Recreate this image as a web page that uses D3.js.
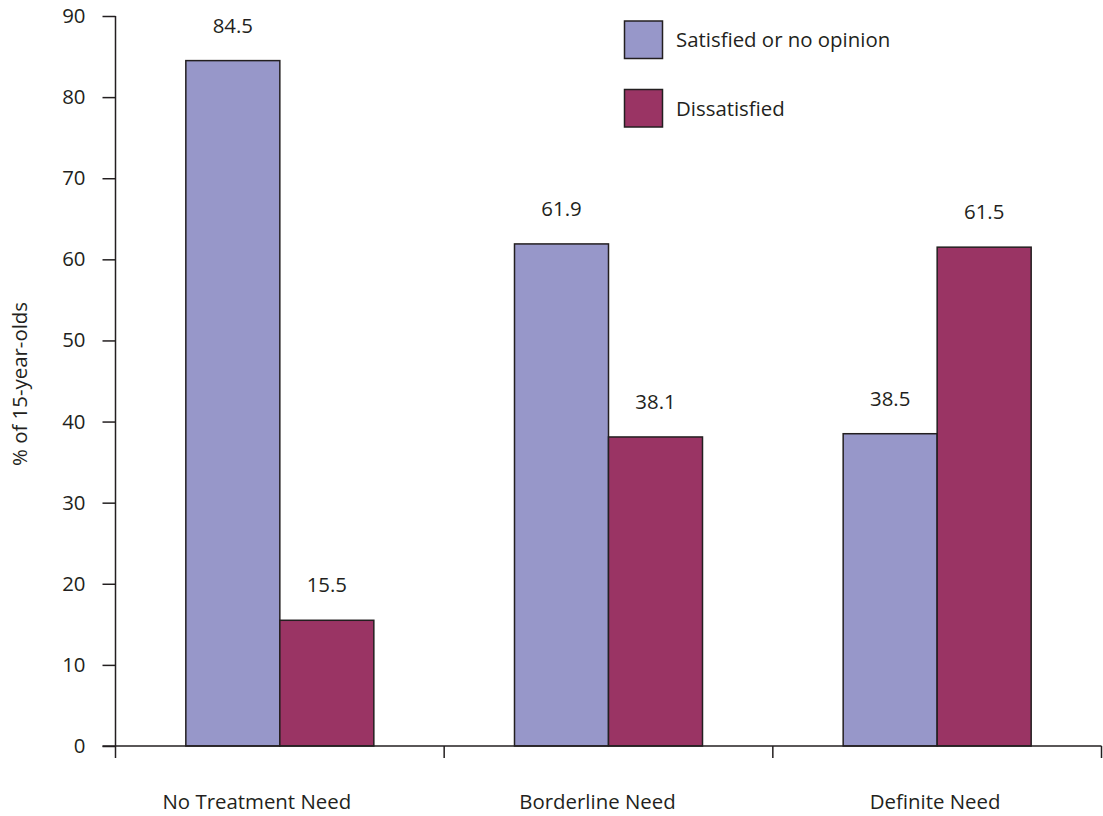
<!DOCTYPE html>
<html><head><meta charset="utf-8">
<script src="https://cdn.jsdelivr.net/npm/d3@7"></script>
<style>body{margin:0;background:#fff}svg{display:block}text{font-family:"Open Sans",sans-serif;fill:#231f20}</style>
</head><body><svg id="c" width="1103" height="816"></svg>
<script>
const categories = ["No Treatment Need", "Borderline Need", "Definite Need"];
const seriesNames = ["Satisfied or no opinion", "Dissatisfied"];
const satisfied = [84.5, 61.9, 38.5];
const dissatisfied = [15.5, 38.1, 61.5];
const yTicks = [0, 10, 20, 30, 40, 50, 60, 70, 80, 90];
const colors = ["#9797c9", "#9a3464"];
const labelShift = [-23, -11, -2];

const svg = d3.select("#c");
const m = {l: 115.5, r: 1101.5, t: 16, b: 746};
const x = d3.scaleBand().domain(categories).range([m.l, m.r]).padding(0);
const x1 = d3.scaleBand().domain(seriesNames).range([0, 188]).padding(0);
const y = d3.scaleLinear().domain([0, 90]).range([m.b, m.t]);
const stroke = "#231f20";
const fs = 20.4;

const data = categories.map((c, i) => ({cat: c, vals: [satisfied[i], dissatisfied[i]]}));

// bars
const g = svg.append("g");
data.forEach((d) => {
  const off = x(d.cat) + (x.bandwidth() - 188) / 2;
  d.vals.forEach((v, j) => {
    g.append("rect")
      .attr("x", off + x1(seriesNames[j]))
      .attr("y", y(v))
      .attr("width", x1.bandwidth())
      .attr("height", y(0) - y(v))
      .attr("fill", colors[j])
      .attr("stroke", stroke).attr("stroke-width", 1.5);
    g.append("text")
      .attr("x", off + x1(seriesNames[j]) + x1.bandwidth() / 2)
      .attr("y", y(v) - 28)
      .attr("text-anchor", "middle")
      .attr("font-size", fs)
      .text(v.toFixed(1));
  });
});

// y axis
const ya = svg.append("g").attr("transform", `translate(${m.l},0)`)
  .call(d3.axisLeft(y).tickValues(yTicks).tickSize(13).tickPadding(17).tickFormat(d3.format("d")));
ya.select(".domain").attr("stroke", stroke).attr("stroke-width", 1.5).attr("d", `M0,${m.t}V${m.b}`);
ya.selectAll(".tick line").attr("stroke", stroke).attr("stroke-width", 1.5);
ya.selectAll(".tick text").attr("font-size", fs).attr("font-family", '"Open Sans",sans-serif').attr("fill", stroke);

// x axis
const xa = svg.append("g").attr("transform", `translate(0,${m.b})`);
xa.append("line").attr("x1", m.l - 13).attr("x2", m.r).attr("y1", 0).attr("y2", 0)
  .attr("stroke", stroke).attr("stroke-width", 1.5);
const edges = categories.map(c => x(c)).concat([m.r]);
xa.selectAll("line.t").data(edges).join("line").attr("class", "t")
  .attr("x1", d => d).attr("x2", d => d).attr("y1", 0).attr("y2", 12)
  .attr("stroke", stroke).attr("stroke-width", 1.5);
xa.selectAll("text").data(categories).join("text")
  .attr("x", (c, i) => x(c) + x.bandwidth() / 2 + labelShift[i])
  .attr("y", 63).attr("text-anchor", "middle").attr("font-size", fs)
  .text(d => d);

// y title
svg.append("text").attr("transform", "translate(27,384) rotate(-90)")
  .attr("text-anchor", "middle").attr("font-size", fs).text("% of 15-year-olds");

// legend
const lg = svg.append("g");
seriesNames.forEach((s, j) => {
  lg.append("rect").attr("x", 624.5).attr("y", 21 + j * 68.5).attr("width", 38).attr("height", 37.5)
    .attr("fill", colors[j]).attr("stroke", stroke).attr("stroke-width", 1.5);
  lg.append("text").attr("x", 676).attr("y", 47 + j * 68.5).attr("font-size", fs).text(s);
});
</script></body></html>
